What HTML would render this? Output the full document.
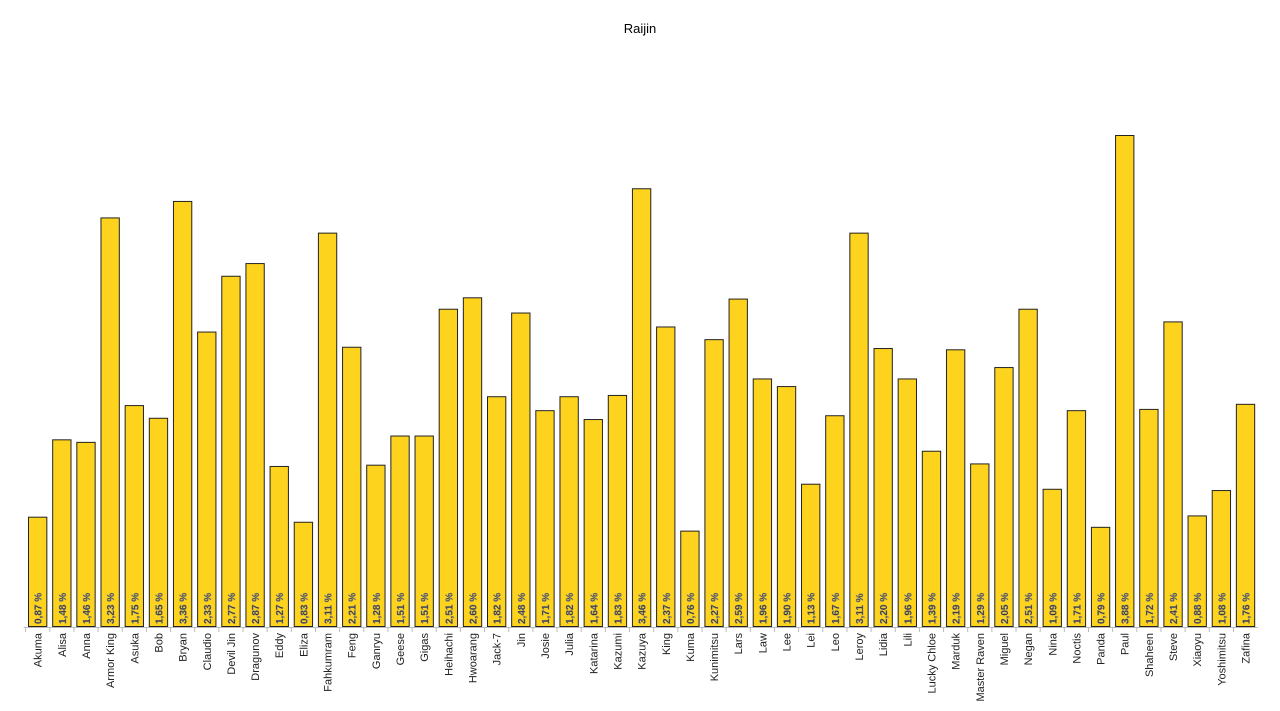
<!DOCTYPE html>
<html><head><meta charset="utf-8"><style>
html,body{margin:0;padding:0;background:#fff;}
svg{display:block;font-family:"Liberation Sans",sans-serif;}
</style></head><body>
<svg id="chart" width="1280" height="711">
<text x="640" y="33" text-anchor="middle" font-size="13" fill="#000">Raijin</text>
<g id="plot"></g>
</svg>
<script>
const categories = ["Akuma","Alisa","Anna","Armor King","Asuka","Bob","Bryan","Claudio","Devil Jin","Dragunov","Eddy","Eliza","Fahkumram","Feng","Ganryu","Geese","Gigas","Heihachi","Hwoarang","Jack-7","Jin","Josie","Julia","Katarina","Kazumi","Kazuya","King","Kuma","Kunimitsu","Lars","Law","Lee","Lei","Leo","Leroy","Lidia","Lili","Lucky Chloe","Marduk","Master Raven","Miguel","Negan","Nina","Noctis","Panda","Paul","Shaheen","Steve","Xiaoyu","Yoshimitsu","Zafina"];
const values = [0.87,1.48,1.46,3.23,1.75,1.65,3.36,2.33,2.77,2.87,1.27,0.83,3.11,2.21,1.28,1.51,1.51,2.51,2.60,1.82,2.48,1.71,1.82,1.64,1.83,3.46,2.37,0.76,2.27,2.59,1.96,1.90,1.13,1.67,3.11,2.20,1.96,1.39,2.19,1.29,2.05,2.51,1.09,1.71,0.79,3.88,1.72,2.41,0.88,1.08,1.76];
const yMax = 3.88;

const NS = "http://www.w3.org/2000/svg";
const g = document.getElementById("plot");
const x0 = 25.6, x1 = 1257.6, baseY = 627, topY = 135;
const band = (x1 - x0) / categories.length;
const xPos = i => x0 + i * band;
const yPos = v => baseY - (v / yMax) * (baseY - topY);

const axis = document.createElementNS(NS, "line");
axis.setAttribute("x1", x0 - 2); axis.setAttribute("x2", x1);
axis.setAttribute("y1", baseY + 0.5); axis.setAttribute("y2", baseY + 0.5);
axis.setAttribute("stroke", "#bbb");


g.appendChild(axis);

categories.forEach((c, i) => {
  const v = values[i];
  const bx = xPos(i) + band * 0.1, bw = band * 0.8;
  const y = yPos(v);
  const r = document.createElementNS(NS, "rect");
  r.setAttribute("x", bx + 0.5); r.setAttribute("y", y + 0.5);
  r.setAttribute("width", bw - 1); r.setAttribute("height", baseY - y - 1);
  r.setAttribute("fill", "#fed31e"); r.setAttribute("stroke", "#222"); r.setAttribute("stroke-width", "1");
  
  
  g.appendChild(r);

  const tk = document.createElementNS(NS, "line");
  tk.setAttribute("x1", xPos(i)); tk.setAttribute("x2", xPos(i));
  tk.setAttribute("y1", baseY); tk.setAttribute("y2", baseY + 5);
  tk.setAttribute("stroke", "#bbb");
  
  
  g.appendChild(tk);

  const cx = xPos(i) + band / 2;
  const vl = document.createElementNS(NS, "text");
  vl.setAttribute("transform", "translate(" + (cx + 4) + "," + (baseY - 3) + ") rotate(-90)");
  vl.setAttribute("font-size", "10"); vl.setAttribute("font-weight", "bold");
  vl.setAttribute("fill", "#333"); vl.setAttribute("stroke", "#8a8a8a"); vl.setAttribute("stroke-width", "0.4");
  vl.textContent = v.toFixed(2).replace(".", ",") + " %";
  
  
  g.appendChild(vl);

  const tl = document.createElementNS(NS, "text");
  tl.setAttribute("transform", "translate(" + (cx + 4) + "," + (baseY + 6) + ") rotate(-90)");
  tl.setAttribute("font-size", "11"); tl.setAttribute("text-anchor", "end");
  tl.setAttribute("fill", "#222");
  tl.textContent = c;
  
  
  g.appendChild(tl);
});
</script>
</body></html>
